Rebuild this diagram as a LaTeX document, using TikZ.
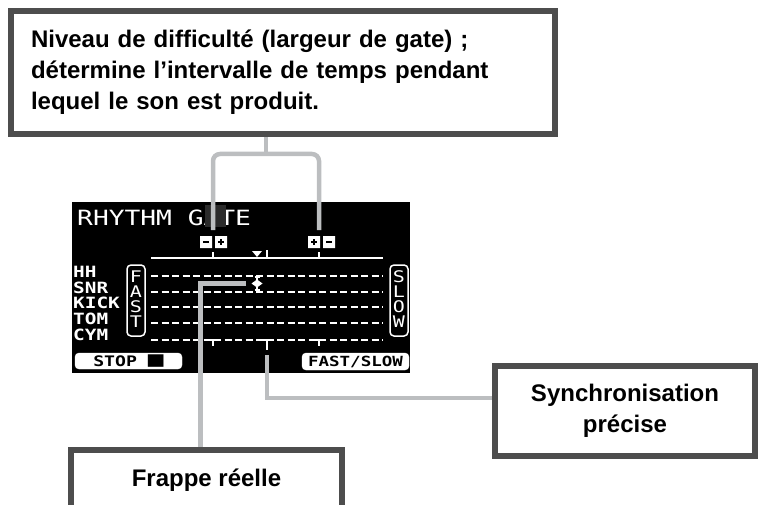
\documentclass[tikz,border=0pt]{standalone}
\usepackage{fontspec}
\setmainfont{Liberation Sans}
\newfontfamily\lcdfont[FakeStretch=1.25]{DejaVu Sans Mono}
\definecolor{cadre}{HTML}{4D4D4D}
\definecolor{fil}{HTML}{BCBEC0}

\begin{document}
\begin{tikzpicture}[x=1pt, y=-1pt,
    boite/.style={draw=cadre, line width=5.5pt, fill=white, font=\bfseries\fontsize{24}{31}\selectfont},
    liaison/.style={draw=fil, line width=4.5pt},
    ecran/.style={white, inner sep=0pt, font=\lcdfont\bfseries\fontsize{15.5}{16}\selectfont},
    piste/.style={white, line width=2pt, dash pattern=on 7pt off 3.5pt},
    bouton/.style={draw=white, fill=white, rounded corners=4pt}]
    \useasboundingbox (0,0) rectangle (759,505);

    % Draw screen
    \fill[black] (72,202) rectangle (410,373);
    \node[ecran, font=\lcdfont\fontsize{21}{22}\selectfont, anchor=west] (titre) at (77,218) {RHYTHM GATE};
    \foreach \nom/\y in {HH/272, SNR/287.5, KICK/303, TOM/318.5, CYM/335}
        \node[ecran, anchor=west] (l\nom) at (73,\y) {\nom};

    % gate scale and lanes
    \draw[white, line width=2pt] (151,258) -- (383,258);
    \draw[white, line width=1.5pt] (213,252) -- (213,258) (319,252) -- (319,258) (267,250) -- (267,258);
    \fill[white] (252,251) -- (262,251) -- (257,257) -- cycle;
    \foreach \y in {276, 292, 307, 323, 340}
        \draw[piste] (151,\y) -- (383,\y);

    % - + keys
    \fill[white] (200,236) rectangle (212,248) (215,236) rectangle (227,248)
                 (308,236) rectangle (320,248) (323,236) rectangle (335,248);
    \draw[black, line width=2pt] (203,242) -- (209,242) (218,242) -- (224,242) (221,239) -- (221,245)
                 (311,242) -- (317,242) (314,239) -- (314,245) (326,242) -- (332,242);

    % FAST / SLOW side boxes
    \draw[white, line width=1.5pt, rounded corners=4pt] (127,265) rectangle (145,336);
    \draw[white, line width=1.5pt, rounded corners=4pt] (390,265) rectangle (408,336);
    \foreach \a/\b [count=\i] in {F/S, A/L, S/O, T/W} {
        \node[ecran, font=\lcdfont\fontsize{16}{16}\selectfont] (f\i) at (136,262+15*\i) {\a};
        \node[ecran, font=\lcdfont\fontsize{16}{16}\selectfont] (s\i) at (399,262+15*\i) {\b};
    }

    % actual hit
    \draw[white, line width=1.2pt] (257,277) -- (257,290) (254.5,277) -- (259.5,277) (254.5,290) -- (259.5,290);
    \fill[white] (251.5,283.5) -- (257,279.5) -- (262.5,283.5) -- (257,287.5) -- cycle;
    \coordinate (coup) at (246,283.5);

    % timing marks
    \draw[white, line width=1.5pt] (210,340) -- (216,340) (213,340) -- (213,346)
        (263,340) -- (271,340) (267,340) -- (267,350)
        (316,340) -- (322,340) (319,340) -- (319,346);
    \coordinate (tsync) at (267,355);

    % buttons
    \draw[bouton] (75,353) rectangle (182,369);
    \node[ecran, black, font=\lcdfont\bfseries\fontsize{14.5}{14}\selectfont] (stop) at (128.5,361)
        {STOP {\fontsize{21}{14}\selectfont ■}};
    \draw[bouton] (302,353) rectangle (409,370);
    \node[ecran, black, font=\lcdfont\bfseries\fontsize{14}{14}\selectfont] (vitesse) at (355.5,361.5) {FAST/SLOW};

    % Draw nodes
    \node[boite, align=left, text width=504pt, inner xsep=20pt, minimum height=123pt] (niveau) at (283,72.5)
        {Niveau de difficulté (largeur de gate) ;\\ détermine l’intervalle de temps pendant\\ lequel le son est produit.};
    \node[boite, align=center, minimum width=260pt, minimum height=90pt] (synchro) at (625,411)
        {Synchronisation\\ précise};
    \node[boite, anchor=north, minimum width=271pt, text height=17pt, text depth=60pt, inner ysep=20pt] (frappe) at (206.5,447)
        {Frappe réelle};

    % Draw connections
    \coordinate (barre) at (266,154);
    \coordinate (gmoins) at (213,230);
    \coordinate (gplus) at (319,230);
    \fill[black!83] (205,205) rectangle (226,227);
    \draw[liaison, rounded corners=7pt] (gmoins) |- (barre) -| (gplus);
    \draw[liaison] (barre) -- (barre |- niveau.south);
    \draw[liaison] (coup) -| ([xshift=-6pt]frappe.north);
    \draw[liaison] (tsync) |- ([yshift=13pt]synchro.west);
\end{tikzpicture}
\end{document}
